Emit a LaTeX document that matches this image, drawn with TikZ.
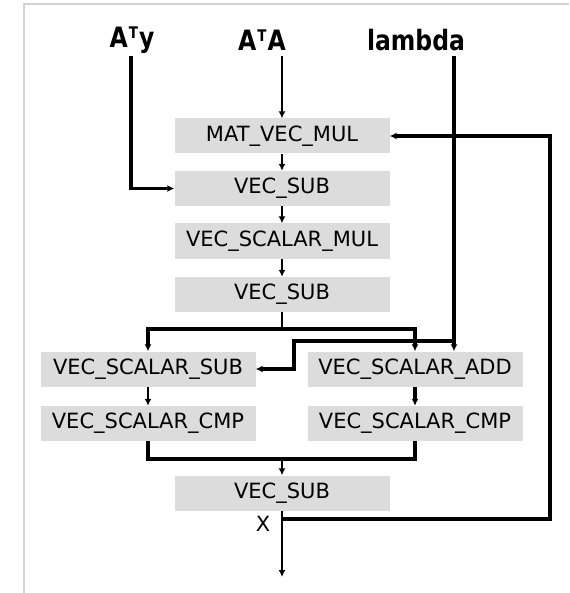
\documentclass[tikz,border=0pt]{standalone}
\usepackage{fontspec}
\setmainfont{DejaVu Sans}
\newfontfamily\headfont[FakeStretch=0.84]{DejaVu Sans}
\usepackage{xcolor}
\usetikzlibrary{arrows.meta,positioning}
\definecolor{boxgray}{HTML}{DCDCDC}
\definecolor{framegray}{HTML}{D2D2D2}
\definecolor{inkblack}{HTML}{000000}
\newcommand{\suptee}{\kern1pt\raisebox{9pt}{\fontsize{16}{16}\selectfont T}\kern1pt}
\tikzset{
  opnode/.style={fill=boxgray,minimum width=215pt,minimum height=35pt,inner sep=0pt,font=\fontsize{21}{23}\selectfont,text=inkblack},
  innode/.style={inner sep=0pt,font=\headfont\fontsize{28}{30}\selectfont\bfseries,text=inkblack},
  thinarrow/.style={-{Latex[length=7pt,width=7pt]},draw=inkblack,line width=2pt},
  thickarrow/.style={-{Latex[length=7pt,width=7pt]},draw=inkblack,line width=3.4pt},
  thickline/.style={draw=inkblack,line width=3.4pt},
  thinline/.style={draw=inkblack,line width=2pt},
}
\begin{document}
\begin{tikzpicture}[x=1pt,y=-1pt]
    \useasboundingbox (0,0) rectangle (569,593);
    \draw[framegray,line width=2pt] (24,593) -- (24,4) -- (569,4);
    % inputs
    \node[innode] (aty) at (132,40) {A\suptee y};
    \node[innode] (ata) at (262,40) {A\suptee A};
    \node[innode] (lam) at (416,40) {lambda};
    \coordinate (atyin) at (131,56);
    \coordinate (atain) at (282,56);
    \coordinate (lamin) at (454,56);
    % operations
    \node[opnode] (mvm) at (282,136) {MAT\_VEC\_MUL};
    \node[opnode] (vsub1) at (282,188.5) {VEC\_SUB};
    \node[opnode] (vsmul) at (282,241) {VEC\_SCALAR\_MUL};
    \node[opnode] (vsub2) at (282,294.5) {VEC\_SUB};
    \node[opnode] (vssub) at (148,369) {VEC\_SCALAR\_SUB};
    \node[opnode] (vsadd) at (415,369) {VEC\_SCALAR\_ADD};
    \node[opnode] (cmpl) at (148,423.5) {VEC\_SCALAR\_CMP};
    \node[opnode] (cmpr) at (415,423.5) {VEC\_SCALAR\_CMP};
    \node[opnode] (vsub3) at (282,493) {VEC\_SUB};
    \node[font=\fontsize{21}{23}\selectfont,text=inkblack] (xlab) at (263,524) {X};
    \coordinate (split) at (282,329);
    \coordinate (lamsplit) at (454,341);
    \coordinate (lamturn) at (294,341);
    \coordinate (merge) at (282,459);
    \coordinate (xtap) at (282,519);
    \coordinate (fbcorner) at (550,519);
    \coordinate (out) at (282,577);
    % connectors
    \draw[thinarrow] (atain) -- (mvm.north);
    \draw[thickarrow] (atyin) |- (vsub1.west);
    \draw[thinarrow] (mvm) -- (vsub1);
    \draw[thinarrow] (vsub1) -- (vsmul);
    \draw[thinarrow] (vsmul) -- (vsub2);
    \draw[thinline] (vsub2.south) -- (split);
    \draw[thickarrow] (split) -| (vssub.north);
    \draw[thickarrow] (split) -| (vsadd.north);
    \draw[thickarrow] (lamin) -- (lamin |- vsadd.north);
    \draw[thickarrow] (lamsplit) -- (lamturn) |- (vssub.east);
    \draw[thinarrow] (vssub) -- (cmpl);
    \draw[thickarrow] (vsadd) -- (cmpr);
    \draw[thickline] (cmpl.south) |- (merge) -| (cmpr.south);
    \draw[thinarrow] (merge) -- (vsub3.north);
    \draw[thinarrow] (vsub3.south) -- (out);
    \draw[thickarrow] (xtap) -- (fbcorner) |- (mvm.east);
  \end{tikzpicture}
\end{document}
